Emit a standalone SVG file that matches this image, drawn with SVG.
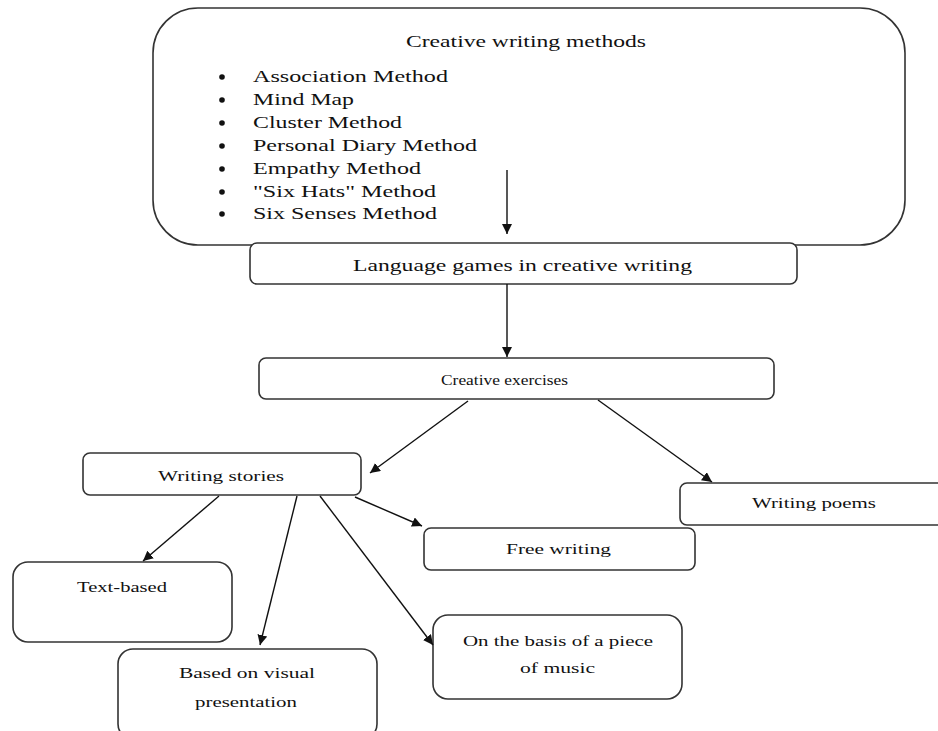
<svg xmlns="http://www.w3.org/2000/svg" width="938" height="731" viewBox="0 0 938 731">
<style>
.box{fill:#fff;stroke:#333;stroke-width:1.6}
.t{font-family:"Liberation Serif","Times New Roman",serif;fill:#111;font-size:15px}
.big{font-size:17px}
.con{stroke:#111;stroke-width:1.4;fill:none;marker-end:url(#ah)}
</style>
<defs>
<marker id="ah" viewBox="0 0 10 10" refX="10" refY="5" markerWidth="10" markerHeight="10" markerUnits="userSpaceOnUse" orient="auto">
<path d="M0,0 L10,5 L0,10 z" fill="#111"/>
</marker>
</defs>
<rect width="938" height="731" fill="#fff"/>
<g id="methods">
<rect class="box" x="153" y="8" width="752" height="237" rx="45" ry="45"/>
<text class="t big" x="406" y="47" textLength="240" lengthAdjust="spacingAndGlyphs">Creative writing methods</text>
<g fill="#111">
<circle cx="222" cy="77" r="2.8"/><circle cx="222" cy="100" r="2.8"/><circle cx="222" cy="123" r="2.8"/><circle cx="222" cy="146" r="2.8"/><circle cx="222" cy="169" r="2.8"/><circle cx="222" cy="192" r="2.8"/><circle cx="222" cy="214" r="2.8"/>
</g>
<text class="t big" x="253" y="82" textLength="195" lengthAdjust="spacingAndGlyphs">Association Method</text>
<text class="t big" x="253" y="105" textLength="101" lengthAdjust="spacingAndGlyphs">Mind Map</text>
<text class="t big" x="253" y="128" textLength="149" lengthAdjust="spacingAndGlyphs">Cluster Method</text>
<text class="t big" x="253" y="151" textLength="224" lengthAdjust="spacingAndGlyphs">Personal Diary Method</text>
<text class="t big" x="253" y="174" textLength="168" lengthAdjust="spacingAndGlyphs">Empathy Method</text>
<text class="t big" x="253" y="197" textLength="183" lengthAdjust="spacingAndGlyphs">"Six Hats" Method</text>
<text class="t big" x="253" y="219" textLength="184" lengthAdjust="spacingAndGlyphs">Six Senses Method</text>
</g>
<g id="language">
<rect class="box" x="250" y="243" width="547" height="41" rx="7"/>
<text class="t big" x="353" y="271" textLength="339" lengthAdjust="spacingAndGlyphs">Language games in creative writing</text>
</g>
<g id="exercises">
<rect class="box" x="259" y="358" width="515" height="41" rx="7"/>
<text class="t" x="441" y="385" textLength="127" lengthAdjust="spacingAndGlyphs">Creative exercises</text>
</g>
<g id="stories">
<rect class="box" x="83" y="453" width="278" height="42" rx="7"/>
<text class="t" x="158" y="481" textLength="126" lengthAdjust="spacingAndGlyphs">Writing stories</text>
</g>
<g id="poems">
<rect class="box" x="680" y="483" width="270" height="42" rx="7"/>
<text class="t" x="752" y="508" textLength="124" lengthAdjust="spacingAndGlyphs">Writing poems</text>
</g>
<g id="free">
<rect class="box" x="424" y="528" width="271" height="42" rx="7"/>
<text class="t" x="506" y="554" textLength="105" lengthAdjust="spacingAndGlyphs">Free writing</text>
</g>
<g id="textbased">
<rect class="box" x="13" y="562" width="219" height="80" rx="15"/>
<text class="t" x="77" y="592" textLength="90" lengthAdjust="spacingAndGlyphs">Text-based</text>
</g>
<g id="visual">
<rect class="box" x="118" y="649" width="259" height="90" rx="15"/>
<text class="t" x="179" y="678" textLength="136" lengthAdjust="spacingAndGlyphs">Based on visual</text>
<text class="t" x="195" y="707" textLength="102" lengthAdjust="spacingAndGlyphs">presentation</text>
</g>
<g id="music">
<rect class="box" x="433" y="615" width="249" height="84" rx="15"/>
<text class="t" x="463" y="646" textLength="190" lengthAdjust="spacingAndGlyphs">On the basis of a piece</text>
<text class="t" x="520" y="673" textLength="75" lengthAdjust="spacingAndGlyphs">of music</text>
</g>
<g id="connectors">
<line class="con" x1="507" y1="170" x2="507" y2="234"/>
<line class="con" x1="507" y1="284" x2="507" y2="357"/>
<line class="con" x1="468" y1="401" x2="370" y2="473"/>
<line class="con" x1="598" y1="400" x2="712" y2="482"/>
<line class="con" x1="219" y1="496" x2="143" y2="561"/>
<line class="con" x1="297" y1="496" x2="260" y2="645"/>
<line class="con" x1="320" y1="496" x2="433" y2="645"/>
<line class="con" x1="355" y1="497" x2="422" y2="526"/>
</g>
</svg>
